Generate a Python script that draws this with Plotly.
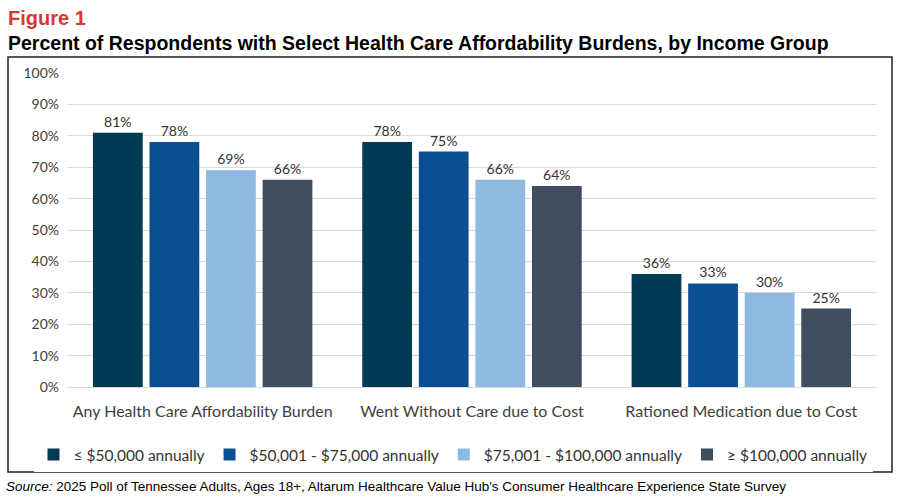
import plotly.graph_objects as go

categories = ["Any Health Care Affordability Burden", "Went Without Care due to Cost",
              "Rationed Medication due to Cost"]
income_groups = ["≤ $50,000 annually", "$50,001 - $75,000 annually",
                 "$75,001 - $100,000 annually", "≥ $100,000 annually"]
values = [
    [0.81, 0.78, 0.36],
    [0.78, 0.75, 0.33],
    [0.69, 0.66, 0.30],
    [0.66, 0.64, 0.25],
]
colours = ["#003b53", "#0b4f93", "#8fb9e1", "#3f4e5e"]

W, H = 906, 502
T, B = 73, 115
ph = H - T - B


def px(x):
    # pixel x -> paper coordinate (no side margins)
    return x / W


def py(y):
    # pixel y (from top) -> paper coordinate
    return (H - B - y) / ph


fig = go.Figure()

for name, vals, colour in zip(income_groups, values, colours):
    fig.add_trace(
        go.Bar(
            x=categories,
            y=vals,
            name=name,
            marker=dict(color=colour, line=dict(width=0)),
            text=[f"{v:.0%}" for v in vals],
            textposition="outside",
            textfont=dict(size=14, color="#333333", family="Lato"),
            cliponaxis=False,
        )
    )

fig.update_layout(
    width=W,
    height=H,
    margin=dict(l=0, r=0, t=T, b=B, autoexpand=False),
    paper_bgcolor="white",
    plot_bgcolor="white",
    barmode="group",
    bargap=0.16,
    bargroupgap=0.12,
    font=dict(family="Lato", color="#404040"),
    showlegend=True,
    legend=dict(
        orientation="h",
        xref="container", yref="container",
        x=0.5, xanchor="center",
        y=1 - 455 / H, yanchor="middle",
        font=dict(size=15.5, color="#333333"),
        itemwidth=30,
        traceorder="normal",
    ),
)

fig.update_yaxes(
    range=[0, 1],
    dtick=0.1,
    tickformat=".0%",
    gridcolor="#d9d9d9",
    zeroline=False,
    tickfont=dict(size=14, color="#404040"),
    ticks="",
    ticklabelstandoff=8,
)
fig.update_xaxes(
    domain=[px(68), px(876)],
    tickfont=dict(size=16, color="#404040"),
    showline=True,
    linecolor="#d9d9d9",
    ticklabelstandoff=10,
)

# outer frame around the chart
fig.add_shape(
    type="rect", xref="paper", yref="paper", layer="above",
    x0=px(8), x1=px(892), y0=py(472), y1=py(57),
    line=dict(color="#222222", width=1.5),
)

fig.add_annotation(
    text="<b>Figure 1</b>", xref="paper", yref="paper",
    x=px(6), y=py(18), xanchor="left", yanchor="middle",
    showarrow=False, font=dict(family="Liberation Sans", size=20, color="#d9372b"),
)
fig.add_annotation(
    text="<b>Percent of Respondents with Select Health Care Affordability Burdens, by Income Group</b>",
    xref="paper", yref="paper",
    x=px(6), y=py(43), xanchor="left", yanchor="middle",
    showarrow=False, font=dict(family="Liberation Sans", size=19.5, color="black"),
)
fig.add_annotation(
    text="<i>Source:</i> 2025 Poll of Tennessee Adults, Ages 18+, Altarum Healthcare Value Hub's Consumer Healthcare Experience State Survey",
    xref="paper", yref="paper",
    x=px(4), y=py(486), xanchor="left", yanchor="middle",
    showarrow=False, font=dict(family="Liberation Sans", size=13.5, color="black"),
)

fig.write_html(
    "out.html",
    config={"displayModeBar": False},
    post_script="document.body.style.margin = '0px';",
)
